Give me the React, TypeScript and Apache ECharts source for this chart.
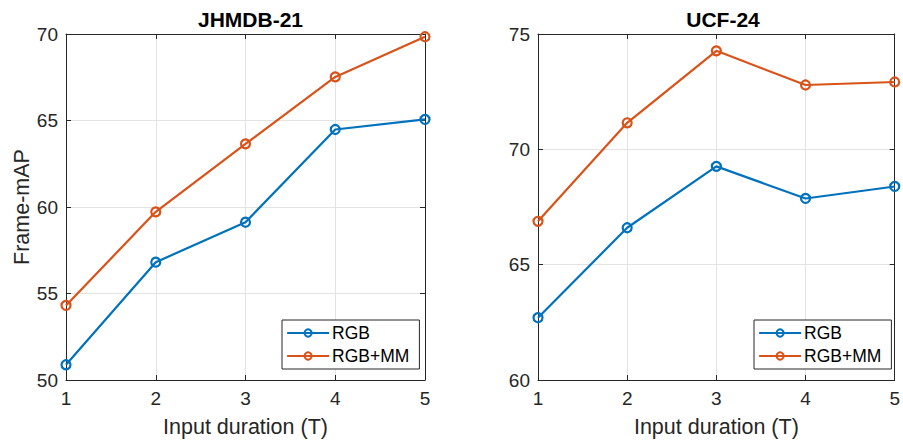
import React, { useEffect, useRef } from "react";
import * as echarts from "echarts";

const durations = [1, 2, 3, 4, 5];
const jhmdbRGB = [50.88, 56.81, 59.12, 64.48, 65.06];
const jhmdbRGBMM = [54.31, 59.72, 63.65, 67.52, 69.84];
const ucfRGB = [62.7, 66.6, 69.26, 67.87, 68.39];
const ucfRGBMM = [66.88, 71.15, 74.27, 72.79, 72.92];
const titles = ["JHMDB-21", "UCF-24"];
const seriesNames = ["RGB", "RGB+MM"];

const BLUE = "#0072BD";
const ORANGE = "#D95319";
const AX = "#262626";
const FONT = "Liberation Sans";

export default function App() {
  const ref = useRef<HTMLDivElement>(null);
  useEffect(() => {
    const chart = echarts.init(ref.current!, undefined, { renderer: "svg" });
    const grids = [
      { left: 66, top: 34, width: 359, height: 346 },
      { left: 538, top: 34, width: 360, height: 346 },
    ];
    const yRanges = [
      [50, 70],
      [60, 75],
    ];
    const xAxes: any[] = [];
    const yAxes: any[] = [];
    grids.forEach((g, i) => {
      xAxes.push({
        type: "value",
        gridIndex: i,
        min: 1,
        max: 5,
        interval: 1,
        position: "bottom",
        name: "Input duration (T)",
        nameLocation: "middle",
        nameGap: 36,
        nameTextStyle: { color: AX, fontSize: 21.5, fontFamily: FONT },
        axisLine: { show: true, lineStyle: { color: AX, width: 1 } },
        axisTick: { show: true, inside: true, length: 5, lineStyle: { color: AX } },
        axisLabel: { color: AX, fontSize: 19, fontFamily: FONT, margin: 9 },
        splitLine: { show: true, lineStyle: { color: "#e3e3e3", width: 1 } },
      });
      xAxes.push({
        type: "value",
        gridIndex: i,
        min: 1,
        max: 5,
        interval: 1,
        position: "top",
        axisLine: { show: true, lineStyle: { color: AX, width: 1 } },
        axisTick: { show: true, inside: true, length: 5, lineStyle: { color: AX } },
        axisLabel: { show: false },
        splitLine: { show: false },
      });
      yAxes.push({
        type: "value",
        gridIndex: i,
        min: yRanges[i][0],
        max: yRanges[i][1],
        interval: 5,
        position: "left",
        name: i === 0 ? "Frame-mAP" : "",
        nameLocation: "middle",
        nameGap: 33,
        nameTextStyle: { color: AX, fontSize: 21.5, fontFamily: FONT },
        axisLine: { show: true, lineStyle: { color: AX, width: 1 } },
        axisTick: { show: true, inside: true, length: 5, lineStyle: { color: AX } },
        axisLabel: { color: AX, fontSize: 19, fontFamily: FONT, margin: 8 },
        splitLine: { show: true, lineStyle: { color: "#e3e3e3", width: 1 } },
      });
      yAxes.push({
        type: "value",
        gridIndex: i,
        min: yRanges[i][0],
        max: yRanges[i][1],
        interval: 5,
        position: "right",
        axisLine: { show: true, lineStyle: { color: AX, width: 1 } },
        axisTick: { show: true, inside: true, length: 5, lineStyle: { color: AX } },
        axisLabel: { show: false },
        splitLine: { show: false },
      });
    });

    const mk = (name: string, data: number[], color: string, gi: number) => ({
      type: "line",
      name,
      xAxisIndex: gi * 2,
      yAxisIndex: gi * 2,
      data: durations.map((d, k) => [d, data[k]]),
      symbol: "circle",
      symbolSize: 9,
      lineStyle: { color, width: 2.2 },
      itemStyle: { color: "rgba(255,255,255,0)", borderColor: color, borderWidth: 2.2 },
      clip: false,
      z: name === "RGB" ? 3 : 4,
    });

    const legendCommon = {
      orient: "vertical",
      top: 320,
      data: seriesNames,
      itemWidth: 42,
      itemHeight: 9,
      itemGap: 5,
      padding: [4, 10, 4, 4],
      borderColor: AX,
      borderWidth: 1,
      backgroundColor: "#fff",
      lineStyle: { width: 2.2 },
      textStyle: { color: "#000", fontSize: 17.5, fontFamily: FONT, padding: [0, 0, 0, -2] },
      selectedMode: false,
    };

    chart.setOption({
      animation: false,
      backgroundColor: "#fff",
      title: titles.map((t, i) => ({
        text: t,
        left: grids[i].left + grids[i].width / 2,
        textAlign: "center",
        top: 4,
        textStyle: { color: "#000", fontSize: 21, fontWeight: "bold", fontFamily: FONT },
      })),
      legend: [
        { ...legendCommon, left: 282 },
        { ...legendCommon, left: 754 },
      ],
      grid: grids,
      xAxis: xAxes,
      yAxis: yAxes,
      series: [
        mk("RGB", jhmdbRGB, BLUE, 0),
        mk("RGB+MM", jhmdbRGBMM, ORANGE, 0),
        mk("RGB", ucfRGB, BLUE, 1),
        mk("RGB+MM", ucfRGBMM, ORANGE, 1),
      ],
    });
    return () => chart.dispose();
  }, []);
  return <div ref={ref} style={{ width: 903, height: 444, position: "absolute", left: 0, top: 0 }} />;
}
